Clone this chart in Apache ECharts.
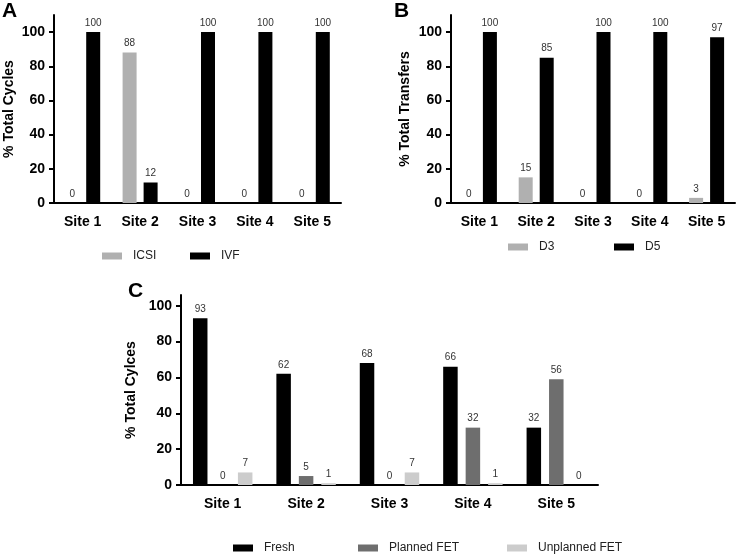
<!DOCTYPE html>
<html>
<head>
<meta charset="utf-8">
<script src="https://cdn.jsdelivr.net/npm/echarts@6/dist/echarts.min.js"></script>
<style>html,body{margin:0;padding:0;background:#fff;}#c{width:736px;height:557px;}</style>
</head>
<body>
<div id="c"></div>
<script>
const sites = ['Site 1', 'Site 2', 'Site 3', 'Site 4', 'Site 5'];
const yTicksAB = [0, 20, 40, 60, 80, 100];
const yTicksC = [0, 20, 40, 60, 80, 100];
// Panel A
const icsi = [0, 88, 0, 0, 0];
const ivf = [100, 12, 100, 100, 100];
// Panel B
const d3 = [0, 15, 0, 0, 3];
const d5 = [100, 85, 100, 100, 97];
// Panel C (bar heights as drawn, labels as printed)
const fresh = [93, 62, 68, 66, 32];
const plannedFET = [0, 5, 0, 32, 59];
const plannedFETLabels = [0, 5, 0, 32, 56];
const unplannedFET = [7, 1, 7, 1, 0];

const FONT = 'Liberation Sans, Arial, sans-serif';
const chart = echarts.init(document.getElementById('c'));

function xAx(gi, fs) {
  return {
    type: 'category', gridIndex: gi, data: sites,
    axisLine: { lineStyle: { color: '#000', width: 2 } },
    axisTick: { alignWithLabel: true, length: 5, lineStyle: { color: '#000', width: 2 } },
    axisLabel: { color: '#000', fontWeight: 'bold', fontSize: fs, fontFamily: FONT, margin: 12 },
    splitLine: { show: false }
  };
}
function yAx(gi, max, ticks, name, fs, gap) {
  return {
    type: 'value', gridIndex: gi, min: 0, max: max,
    name: name, nameLocation: 'middle', nameGap: gap,
    nameTextStyle: { color: '#000', fontWeight: 'bold', fontSize: 14, fontFamily: FONT },
    axisLine: { show: true, lineStyle: { color: '#000', width: 2 } },
    axisTick: { show: true, length: 5, customValues: ticks, lineStyle: { color: '#000', width: 2 } },
    axisLabel: { color: '#000', fontWeight: 'bold', fontSize: fs, fontFamily: FONT, margin: 9, customValues: ticks },
    splitLine: { show: false }
  };
}
function lbl(labels) {
  return {
    show: true, position: 'top', distance: 4, fontSize: 10, color: '#333', fontFamily: FONT,
    formatter: labels ? (p) => String(labels[p.dataIndex]) : (p) => String(p.value)
  };
}
function bar(name, data, color, xi, bw, gap, labels) {
  return {
    type: 'bar', name: name, data: data, xAxisIndex: xi, yAxisIndex: xi,
    barWidth: bw, barGap: gap, itemStyle: { color: color },
    label: lbl(labels), emphasis: { disabled: true }, animation: false
  };
}
function leg(name, left, top) {
  return {
    data: [name], left: left, top: top, padding: 0, itemWidth: 20, itemHeight: 7,
    icon: 'rect', selectedMode: false,
    textStyle: { fontSize: 12, color: '#222', fontFamily: FONT, padding: [0, 0, 0, 6] }
  };
}
function ttl(t, left, top) {
  return { text: t, left: left, top: top, padding: 0,
    textStyle: { fontSize: 21, fontWeight: 'bold', color: '#000', fontFamily: FONT } };
}

chart.setOption({
  animation: false,
  backgroundColor: '#fff',
  title: [ttl('A', 2, 1), ttl('B', 394, 1), ttl('C', 128, 281)],
  grid: [
    { left: 54, top: 15, width: 287, height: 188 },
    { left: 451, top: 15, width: 284, height: 188 },
    { left: 181, top: 295, width: 417, height: 190 }
  ],
  xAxis: [xAx(0, 14), xAx(1, 14), xAx(2, 14)],
  yAxis: [
    yAx(0, 110, yTicksAB, '% Total Cycles', 14, 38),
    yAx(1, 110, yTicksAB, '% Total Transfers', 14, 39),
    yAx(2, 106, yTicksC, '% Total Cylces', 14, 40)
  ],
  legend: [
    leg('ICSI', 102, 250), leg('IVF', 190, 250),
    leg('D3', 508, 241), leg('D5', 614, 241),
    leg('Fresh', 233, 542), leg('Planned FET', 358, 542), leg('Unplanned FET', 507, 542)
  ],
  series: [
    bar('ICSI', icsi, '#b0b0b0', 0, 14, '50%'),
    bar('IVF', ivf, '#000000', 0, 14, '50%'),
    bar('D3', d3, '#b0b0b0', 1, 14, '50%'),
    bar('D5', d5, '#000000', 1, 14, '50%'),
    bar('Fresh', fresh, '#000000', 2, 14.5, '55%'),
    bar('Planned FET', plannedFET, '#6e6e6e', 2, 14.5, '55%', plannedFETLabels),
    bar('Unplanned FET', unplannedFET, '#cccccc', 2, 14.5, '55%')
  ]
});
</script>
</body>
</html>
